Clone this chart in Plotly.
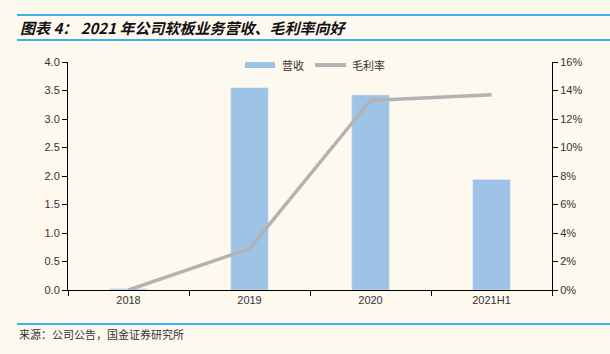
import plotly.graph_objects as go

categories = ["2018", "2019", "2020", "2021H1"]
revenue = [0.02, 3.55, 3.42, 1.94]
gross_margin = [0.0, 2.9, 13.3, 13.7]

L, R, T, B = 68, 552, 62, 290
W, H = 610, 354
def px(x): return (x - L) / (R - L)
def py(y): return (B - y) / (B - T)

BAR_C = "#9DC3E6"
LINE_C = "#B3B3B3"

fig = go.Figure()
fig.add_trace(go.Bar(x=categories, y=revenue, name="营收", marker_color=BAR_C,
                     width=0.31, yaxis="y", showlegend=False))
fig.add_trace(go.Scatter(x=categories, y=gross_margin, name="毛利率", mode="lines",
                         line=dict(color=LINE_C, width=3.5), yaxis="y2", showlegend=False))

tickfont = dict(family="Liberation Sans, Arial", size=11, color="#333333")
fig.update_layout(
    width=W, height=H,
    margin=dict(l=L, r=W - R, t=T, b=H - B),
    paper_bgcolor="#FEF9EF", plot_bgcolor="#FEF9EF",
    showlegend=False,
    xaxis=dict(type="category", range=[-0.5, 3.5], tickson="boundaries", ticks="outside",
               ticklen=5, tickcolor="black", showline=True, linecolor="black", linewidth=1,
               showgrid=False, tickfont=tickfont),
    yaxis=dict(range=[0, 4], dtick=0.5, tickformat=".1f", ticks="outside", ticklen=5,
               tickcolor="black", showline=True, linecolor="black", linewidth=1,
               showgrid=False, zeroline=False, tickfont=tickfont),
    yaxis2=dict(range=[0, 16], dtick=2, ticksuffix="%", overlaying="y", side="right",
                ticks="outside", ticklen=5, tickcolor="black", showline=True,
                linecolor="black", linewidth=1, showgrid=False, zeroline=False,
                tickfont=tickfont),
)

# custom legend
fig.add_shape(type="rect", xref="paper", yref="paper", x0=px(245), x1=px(275),
              y0=py(68), y1=py(62), fillcolor=BAR_C, line=dict(width=0))
fig.add_annotation(xref="paper", yref="paper", x=px(280), y=py(65), xanchor="left",
                   yanchor="middle", showarrow=False, text="营收",
                   font=dict(family="Noto Sans CJK SC", size=11, color="#333333"))
fig.add_shape(type="line", xref="paper", yref="paper", x0=px(315), x1=px(346),
              y0=py(65), y1=py(65), line=dict(color=LINE_C, width=4))
fig.add_annotation(xref="paper", yref="paper", x=px(350), y=py(65), xanchor="left",
                   yanchor="middle", showarrow=False, text="毛利率",
                   font=dict(family="Noto Sans CJK SC", size=11, color="#333333"))

lc = "#39B3F0"
for yy in (15, 40, 324):
    fig.add_shape(type="line", xref="paper", yref="paper", x0=px(17), x1=px(610),
                  y0=py(yy), y1=py(yy), line=dict(color=lc, width=2))

fig.add_annotation(xref="paper", yref="paper", x=px(18), y=py(27), xanchor="left",
                   yanchor="middle", showarrow=False,
                   text="<b><i>图表 4： 2021 年公司软板业务营收、毛利率向好</i></b>",
                   font=dict(family="Noto Sans CJK SC", size=15, color="#111111"))
fig.add_annotation(xref="paper", yref="paper", x=px(17), y=py(334), xanchor="left",
                   yanchor="middle", showarrow=False,
                   text="来源：公司公告，国金证券研究所",
                   font=dict(family="Noto Sans CJK SC", size=11, color="#333333"))

fig.write_html("out.html")
